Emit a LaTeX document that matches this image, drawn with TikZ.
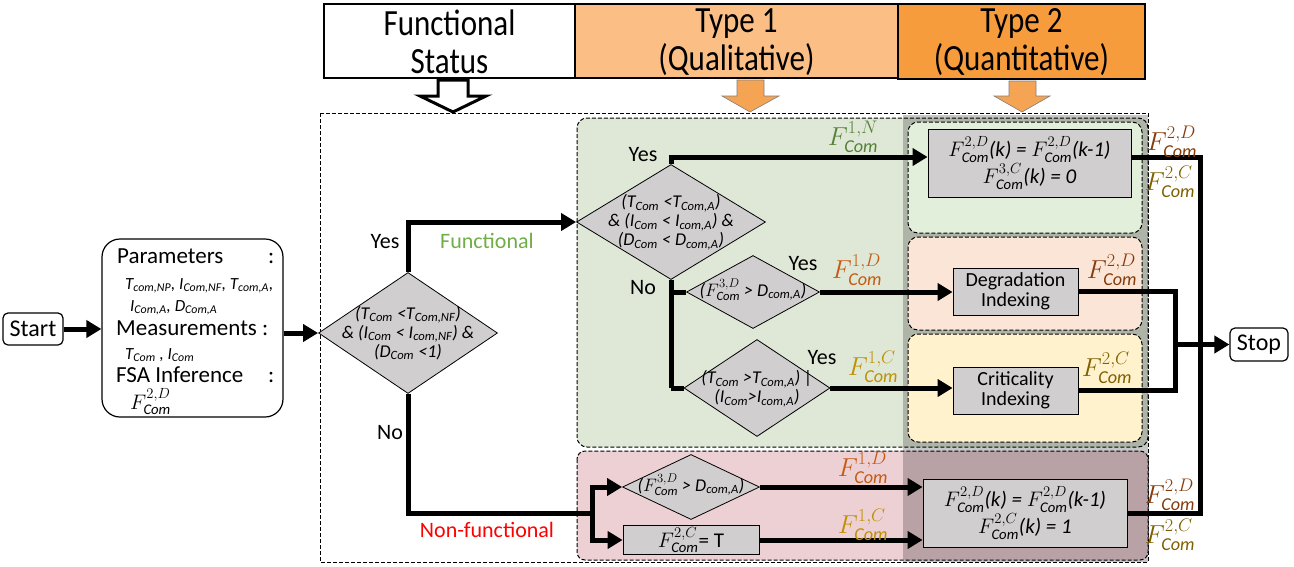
\RequirePackage{fix-cm}
\documentclass[tikz,border=0pt]{standalone}
\usepackage{amsmath}
\usepackage{graphicx}
\usepackage{fontspec}
\setmainfont{Carlito}
\usetikzlibrary{shapes.geometric,arrows.meta}
\definecolor{hdrA}{HTML}{FBBF85}
\definecolor{hdrB}{HTML}{F79C3D}
\definecolor{arrO}{HTML}{F5A453}
\definecolor{grnbg}{HTML}{DFE7D7}
\definecolor{pinkbg}{HTML}{EDD0D4}
\definecolor{lgreen}{HTML}{E2EFDA}
\definecolor{lpeach}{HTML}{FBE5D6}
\definecolor{lyellow}{HTML}{FFF2CC}
\definecolor{boxgray}{HTML}{D0CECE}
\definecolor{cN}{HTML}{548235}
\definecolor{cD}{HTML}{C55A11}
\definecolor{cC}{HTML}{BF9000}
\definecolor{cDD}{HTML}{843C0C}
\definecolor{cCC}{HTML}{7F6000}
\definecolor{funcg}{HTML}{70AD47}
\definecolor{nfred}{HTML}{FF0000}
\newcommand\FF[1]{$F^{#1}_{\mathit{Com}}$}
\newcommand\Vs[2]{\textit{#1}\textsubscript{\textit{#2}}}
\newcommand\fs[1]{\fontsize{#1}{#1}\selectfont}
\newcommand\hs[1]{\scalebox{0.94}[1.12]{#1}}
\begin{document}
\begin{tikzpicture}[x=1pt,y=-1pt,
  line/.style={line width=5pt},
  conn/.style={line width=5pt,-{Triangle[length=15pt,width=17pt]}},
  dia/.style={diamond,draw,fill=boxgray,line width=0.8pt,inner sep=0pt},
  gbox/.style={draw,fill=boxgray,line width=0.8pt,inner sep=0pt,align=center},
  dtext/.style={align=center,inner sep=0pt,font=\fs{18}\itshape},
  lab/.style={inner sep=0pt,font=\fs{22}},
  flab/.style={inner sep=0pt,font=\fs{26}},
  dsh/.style={dash pattern=on 4pt off 2pt,line width=1pt},
  hdr/.style={align=center,inner sep=0pt,font=\fs{33}}]
\useasboundingbox (0,0) rectangle (1294,566);
% regions
\draw[dsh] (320,113) rectangle (1148,562);
\draw[dsh,fill=grnbg,rounded corners=10pt] (577,118) rectangle (1148,447);
\draw[dsh,fill=pinkbg,rounded corners=8pt] (577,451) rectangle (1148,560);
\fill[black,opacity=0.22] (903,115) rectangle (1148,562);
\draw[dsh,fill=lgreen,rounded corners=10pt] (908,122) rectangle (1142,233);
\draw[dsh,fill=lpeach,rounded corners=10pt] (908,237) rectangle (1142,330);
\draw[dsh,fill=lyellow,rounded corners=10pt] (908,334) rectangle (1142,442);
% header
\draw[line width=1.2pt,fill=white] (324,4) rectangle (575,78);
\draw[line width=1.2pt,fill=hdrA] (575,4) rectangle (898,78);
\draw[line width=2pt,fill=hdrB] (898,4) rectangle (1145,79);
\node[hdr] (h1) at (449.5,42) {\hs{Functional}\\[5pt]\hs{Status}};
\node[hdr] (h2) at (736.5,42) {\hs{Type 1}\\[5pt]\hs{(Qualitative)}};
\node[hdr] (h3) at (1021.5,42) {\hs{Type 2}\\[5pt]\hs{(Quantitative)}};
\draw[line width=3pt,fill=white,line join=miter] (438,80)--(468,80)--(468,96)--(486,96)--(453,112)--(420,96)--(438,96)--cycle;
\draw[line width=0.6pt,draw=gray,fill=arrO] (737,80)--(764,80)--(764,96)--(779,96)--(750,112)--(722,96)--(737,96)--cycle;
\draw[line width=0.6pt,draw=gray,fill=arrO] (1009,81)--(1036,81)--(1036,96)--(1050,96)--(1022,112)--(994,96)--(1009,96)--cycle;
% left nodes
\node[draw,line width=1.2pt,rounded corners=5pt,minimum width=60pt,minimum height=32pt,inner sep=0pt,font=\fs{24}] (start) at (33,329) {Start};
\node[draw,line width=1.2pt,rounded corners=18pt,minimum width=181pt,minimum height=178pt,inner sep=0pt] (params) at (192.5,328) {};
\node[anchor=base west,inner sep=0pt,font=\fs{23}] (p1) at (117,263) {Parameters};
\node[anchor=base west,inner sep=0pt,font=\fs{23}] (p1c) at (268,263) {:};
\node[anchor=base west,inner sep=0pt,font=\fs{17}\itshape] (p2) at (125,289) {T\textsubscript{com,NP}, I\textsubscript{Com,NF}, T\textsubscript{com,A},};
\node[anchor=base west,inner sep=0pt,font=\fs{17}\itshape] (p3) at (130,311) {I\textsubscript{Com,A}, D\textsubscript{Com,A}};
\node[anchor=base west,inner sep=0pt,font=\fs{23}] (p4) at (116,335) {Measurements :};
\node[anchor=base west,inner sep=0pt,font=\fs{17}\itshape] (p5) at (125,359) {T\textsubscript{Com} , I\textsubscript{Com}};
\node[anchor=base west,inner sep=0pt,font=\fs{23}] (p6) at (116,382) {FSA Inference};
\node[anchor=base west,inner sep=0pt,font=\fs{23}] (p6c) at (268,382) {:};
\node[anchor=base west,inner sep=0pt,font=\fs{21}] (p7) at (130,409) {\FF{2,D}};
% diamonds
\node[dia,minimum width=179pt,minimum height=121pt] (d1) at (408,333) {};
\node[dtext] (d1t) at (408,333) {(\Vs{T}{Com} <\Vs{T}{Com,NF})\\[1pt]\& (\Vs{I}{Com} < \Vs{I}{com,NF}) \&\\[1pt](\Vs{D}{Com} <1)};
\node[dia,minimum width=189pt,minimum height=115pt] (d2) at (671,222) {};
\node[dtext] (d2t) at (671,222) {(\Vs{T}{Com} <\Vs{T}{Com,A})\\[1pt]\& (\Vs{I}{Com} < \Vs{I}{com,A}) \&\\[1pt](\Vs{D}{Com} < \Vs{D}{com,A})};
\node[dia,minimum width=133pt,minimum height=73pt] (d3) at (753,292) {};
\node[dtext] (d3t) at (753,290) {(\FF{3,D} > \Vs{D}{com,A})};
\node[dia,minimum width=146pt,minimum height=97pt] (d4) at (757,388) {};
\node[dtext] (d4t) at (757,389) {(\Vs{T}{Com} >\Vs{T}{Com,A}) |\\[1pt](\Vs{I}{Com}>\Vs{I}{com,A})};
\node[dia,minimum width=137pt,minimum height=65pt] (d5) at (691,487) {};
\node[dtext] (d5t) at (691,485) {(\FF{3,D} > \Vs{D}{com,A})};
\node[gbox,minimum width=136pt,minimum height=29pt,font=\fs{21}] (bT) at (691,540) {\FF{2,C}= T};
% right boxes
\node[gbox,minimum width=203pt,minimum height=68pt,font=\fs{21}\itshape] (b1) at (1029.5,163) {\FF{2,D}(k) = \FF{2,D}(k-1)\\\FF{3,C}(k) = 0};
\node[gbox,minimum width=125pt,minimum height=47pt,font=\fs{20}] (b2) at (1015.5,291.5) {Degradation\\Indexing};
\node[gbox,minimum width=125pt,minimum height=47pt,font=\fs{20}] (b3) at (1015.5,390.5) {Criticality\\Indexing};
\node[gbox,minimum width=204pt,minimum height=68pt,font=\fs{21}\itshape] (b4) at (1025,513) {\FF{2,D}(k) = \FF{2,D}(k-1)\\\FF{2,C}(k) = 1};
\node[draw,line width=1.2pt,rounded corners=5pt,minimum width=58pt,minimum height=33pt,inner sep=0pt,font=\fs{24}] (stop) at (1259,344.5) {Stop};
% connectors
\draw[conn] (start.east) -- (params.west |- start.east);
\draw[conn] (params.east |- d1.west) -- (d1.west);
\draw[conn] (d1.north) |- (d2.west);
\coordinate (br) at (592,513);
\draw[line] (d1.south) |- (br);
\draw[conn] (br) |- (d5.west);
\draw[conn] (br) |- (bT.west);
\draw[line] (br |- d5.west) -- (br |- bT.west);
\coordinate (ty) at (1200,157);
\draw[conn] (d2.north) |- (b1.west |- ty);
\draw[line] (d2.south) -- (d2.south |- d4.west);
\draw[line] (d2.south |- d3.west) -- (d3.west);
\draw[line] (d2.south |- d4.west) -- (d4.west);
\draw[conn] (d3.east) -- (d3.east -| b2.west);
\draw[conn] (d4.east) -- (d4.east -| b3.west);
\draw[conn] (d5.east) -- (d5.east -| b4.west);
\draw[conn] (bT.east) -- (bT.east -| b4.west);
\draw[line] (b1.east |- ty) -- (ty) |- (b4.east);
\coordinate (jn) at (1175,344.5);
\draw[line] (b2.east) -| (jn) |- (b3.east);
\draw[conn] (jn) -- (stop.west);
% labels
\node[lab] (y1) at (385,242) {Yes};
\node[lab] (n1) at (390,433) {No};
\node[lab,text=funcg] (fn) at (487,241) {Functional};
\node[lab,text=nfred] (nf) at (487,530) {Non-functional};
\node[lab] (y2) at (643,155) {Yes};
\node[lab] (n2) at (643,288) {No};
\node[lab] (y3) at (803,264) {Yes};
\node[lab] (y4) at (822,358) {Yes};
\node[flab,text=cN] (f1) at (853,137) {\FF{1,N}};
\node[flab,text=cD] (f2) at (857,270) {\FF{1,D}};
\node[flab,text=cC] (f3) at (873,367) {\FF{1,C}};
\node[flab,text=cD] (f4) at (863,468) {\FF{1,D}};
\node[flab,text=cC] (f5) at (863,525) {\FF{1,C}};
\node[flab,text=cDD] (f6) at (1112,270) {\FF{2,D}};
\node[flab,text=cCC] (f7) at (1107,368) {\FF{2,C}};
\node[flab,text=cDD] (f8) at (1172,142) {\FF{2,D}};
\node[flab,text=cCC] (f9) at (1170,182) {\FF{2,C}};
\node[flab,text=cDD] (f10) at (1170,495) {\FF{2,D}};
\node[flab,text=cCC] (f11) at (1170,535) {\FF{2,C}};
\end{tikzpicture}
\end{document}
